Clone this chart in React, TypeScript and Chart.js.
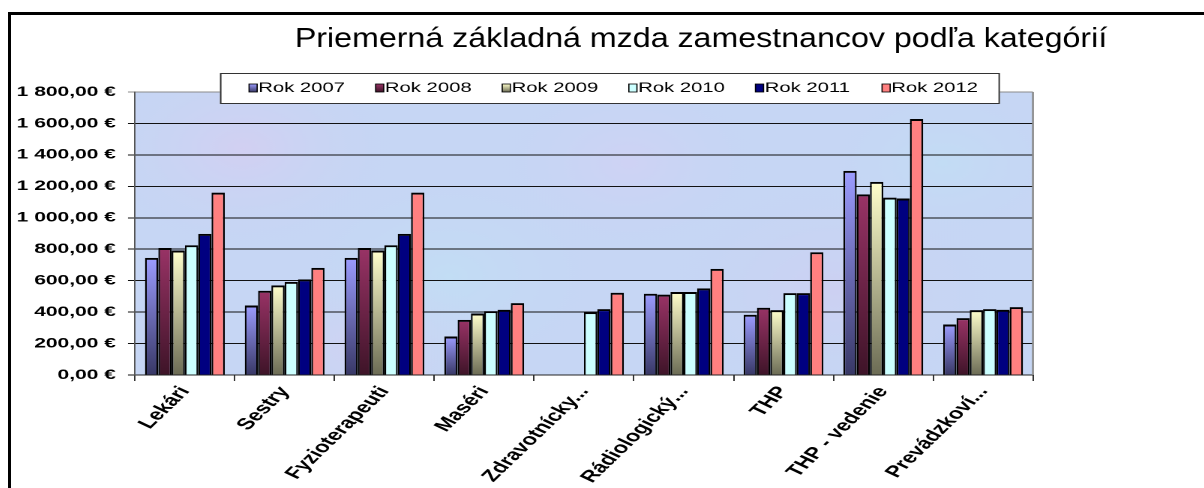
import React, { useEffect, useRef } from 'react';
import { Chart, registerables } from 'chart.js';

Chart.register(...registerables);

// ---- data ----
const chartTitle = 'Priemerná základná mzda zamestnancov podľa kategórií';
const categories = [
  'Lekári',
  'Sestry',
  'Fyzioterapeuti',
  'Maséri',
  'Zdravotnícky...',
  'Rádiologický...',
  'THP',
  'THP - vedenie',
  'Prevádzkoví...',
];
const seriesLabels = ['Rok 2007', 'Rok 2008', 'Rok 2009', 'Rok 2010', 'Rok 2011', 'Rok 2012'];
const rok2007 = [745, 442, 745, 245, null, 517, 383, 1298, 321];
const rok2008 = [808, 536, 808, 351, null, 511, 428, 1149, 362];
const rok2009 = [792, 570, 792, 391, null, 528, 413, 1228, 413];
const rok2010 = [825, 592, 825, 406, 400, 528, 521, 1128, 419];
const rok2011 = [898, 608, 898, 415, 419, 551, 521, 1123, 415];
const rok2012 = [1160, 681, 1160, 457, 523, 675, 781, 1628, 432];
const seriesValues = [rok2007, rok2008, rok2009, rok2010, rok2011, rok2012];
const yMin = 0;
const yMax = 1800;
const yStep = 200;

// ---- styles ----
const topColors = ['#9C9CFF', '#993366', '#FFFFCC', '#CCFFFF', '#000080', '#FF8080'];
const bottomColors = ['#383866', '#3E1428', '#6C6C55', '#CCFFFF', '#000080', '#FF8080'];
const STRETCH = 1.5;
const FRAME_W = 1193;
const FRAME_H = 473;
const FONT = '"Liberation Sans", Arial, sans-serif';
// soft tint spots of the textured plot background: [fx, fy, radius fraction, colour]
const tintSpots: [number, number, number, string][] = [
  [0.12, 0.2, 0.18, 'rgba(225,200,240,0.45)'],
  [0.35, 0.65, 0.2, 'rgba(190,230,245,0.45)'],
  [0.55, 0.25, 0.16, 'rgba(220,205,245,0.4)'],
  [0.78, 0.7, 0.2, 'rgba(215,200,240,0.4)'],
  [0.9, 0.25, 0.15, 'rgba(190,228,245,0.45)'],
  [0.25, 0.9, 0.15, 'rgba(222,205,240,0.4)'],
];

function formatEuro(v: number): string {
  const [i, d] = Number(v).toFixed(2).split('.');
  const grouped = i.replace(/\B(?=(\d{3})+(?!\d))/g, ' ');
  return `${grouped},${d} €`;
}

const decorPlugin = {
  id: 'decor',
  beforeDraw(chart: any) {
    const { ctx, chartArea: a } = chart;
    const w = a.right - a.left;
    const h = a.bottom - a.top;
    ctx.save();
    ctx.beginPath();
    ctx.rect(a.left, a.top, w, h);
    ctx.clip();
    ctx.fillStyle = '#C6D6F4';
    ctx.fillRect(a.left, a.top, w, h);
    tintSpots.forEach(([fx, fy, fr, col]) => {
      const cx = a.left + fx * w;
      const cy = a.top + fy * h;
      const r = fr * w;
      const g = ctx.createRadialGradient(cx, cy, 0, cx, cy, r);
      g.addColorStop(0, col);
      g.addColorStop(1, 'rgba(200,215,245,0)');
      ctx.fillStyle = g;
      ctx.fillRect(a.left, a.top, w, h);
    });
    ctx.restore();
  },
  afterDatasetsDraw(chart: any) {
    const { ctx, chartArea: a } = chart;
    ctx.save();
    ctx.strokeStyle = '#8C8C8C';
    ctx.lineWidth = 1.3;
    ctx.beginPath();
    ctx.moveTo(a.right, a.top);
    ctx.lineTo(a.right, a.bottom);
    ctx.stroke();
    ctx.restore();
  },
  afterDraw(chart: any) {
    const { ctx } = chart;
    ctx.save();
    // title (less horizontal stretch than the rest)
    ctx.save();
    ctx.translate(460, 32);
    ctx.scale(0.78, 1);
    ctx.font = `normal 27.5px ${FONT}`;
    ctx.fillStyle = '#000';
    ctx.textAlign = 'center';
    ctx.textBaseline = 'alphabetic';
    ctx.fillText(chartTitle, 0, 0);
    ctx.restore();

    // legend box
    const bx = 139.3;
    const by = 58;
    const bw = 520;
    const bh = 31;
    ctx.fillStyle = '#FFFFFF';
    ctx.fillRect(bx, by, bw, bh);
    ctx.strokeStyle = '#333';
    ctx.lineWidth = 1;
    ctx.strokeRect(bx + 0.5, by + 0.5, bw - 1, bh - 1);

    ctx.font = `normal 13.5px ${FONT}`;
    ctx.textAlign = 'left';
    ctx.textBaseline = 'middle';
    seriesLabels.forEach((label, i) => {
      const sx = 158.7 + i * 84.4;
      const sy = 69;
      const g = ctx.createLinearGradient(0, sy, 0, sy + 8);
      g.addColorStop(0, topColors[i]);
      g.addColorStop(1, bottomColors[i]);
      ctx.fillStyle = g;
      ctx.fillRect(sx, sy, 5.4, 8);
      ctx.strokeStyle = '#000';
      ctx.lineWidth = 0.8;
      ctx.strokeRect(sx, sy, 5.4, 8);
      ctx.fillStyle = '#000';
      ctx.fillText(label, sx + 6.2, sy + 4.5);
    });
    ctx.restore();
  },
};

export default function App() {
  const ref = useRef<HTMLCanvasElement>(null);

  useEffect(() => {
    const canvas = ref.current;
    if (!canvas) return;
    const datasets = seriesValues.map((data, i) => ({
      label: seriesLabels[i],
      data,
      backgroundColor: (c: any) => {
        const chart = c.chart;
        const ys = chart.scales && chart.scales.y;
        const v = c.raw;
        if (c.type !== 'data' || !ys || v == null || !chart.chartArea) return topColors[i];
        if (topColors[i] === bottomColors[i]) return topColors[i];
        const g = chart.ctx.createLinearGradient(0, ys.getPixelForValue(v), 0, ys.getPixelForValue(0));
        g.addColorStop(0, topColors[i]);
        g.addColorStop(1, bottomColors[i]);
        return g;
      },
      borderColor: '#000',
      borderWidth: { top: 2, left: 1.2, right: 1.2, bottom: 0 },
      borderSkipped: 'start',
      categoryPercentage: 0.8,
      barPercentage: 1.0,
    }));

    const chart = new Chart(canvas, {
      type: 'bar',
      data: { labels: categories, datasets },
      options: {
        responsive: true,
        maintainAspectRatio: false,
        animation: false,
        devicePixelRatio: 2,
        layout: { padding: { left: 0, top: 77, right: 114, bottom: 0 } },
        plugins: {
          legend: { display: false },
          title: { display: false },
          tooltip: { enabled: false },
        },
        scales: {
          x: {
            offset: true,
            grid: {
              offset: true,
              drawOnChartArea: false,
              drawTicks: true,
              tickLength: 6,
              color: '#333',
            },
            border: { color: '#222', width: 1 },
            ticks: {
              autoSkip: false,
              minRotation: 55,
              maxRotation: 55,
              padding: 2,
              color: '#000',
              font: { family: FONT, size: 16, weight: 'bold' },
            },
            afterFit: (s: any) => {
              s.height = 113;
            },
          },
          y: {
            min: yMin,
            max: yMax,
            ticks: {
              stepSize: yStep,
              padding: 8,
              color: '#000',
              font: { family: FONT, size: 14, weight: 'bold' },
              callback: (v: any) => formatEuro(Number(v)),
            },
            grid: {
              color: (c: any) => (c.tick && c.tick.value === yMax ? '#8A8A8A' : '#111'),
              lineWidth: 1,
              tickLength: 4.7,
            },
            border: { color: '#555', width: 1 },
            afterFit: (s: any) => {
              s.width = 82.67;
            },
          },
        },
      },
      plugins: [decorPlugin],
    });
    return () => chart.destroy();
  }, []);

  return (
    <div
      style={{
        position: 'fixed',
        left: 8,
        top: 12,
        right: 0,
        bottom: 0,
        borderLeft: '3px solid #000',
        borderTop: '3px solid #000',
        background: '#fff',
        overflow: 'hidden',
      }}
    >
      <div
        style={{
          position: 'relative',
          width: FRAME_W / STRETCH,
          height: FRAME_H,
          transform: `scaleX(${STRETCH})`,
          transformOrigin: '0 0',
        }}
      >
        <canvas ref={ref} />
      </div>
    </div>
  );
}
